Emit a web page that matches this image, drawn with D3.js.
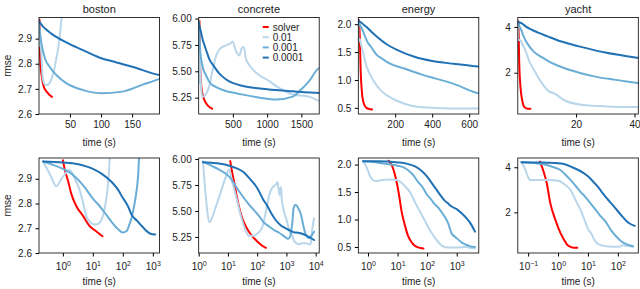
<!DOCTYPE html>
<html>
<head>
<meta charset="utf-8">
<script src="https://cdn.jsdelivr.net/npm/d3@7"></script>
<style>
  body { margin: 0; background: #fff; }
  text { font-family: "Liberation Sans", Arial, sans-serif; fill: #222; }
</style>
</head>
<body>
<div class="canvas"></div>
<script>
// datasets and series
const datasets = ['boston', 'concrete', 'energy', 'yacht'];
const seriesNames = ['solver', '0.01', '0.001', '0.0001'];
const seriesColors = ['#ff0000', '#b9d6eb', '#6aaed6', '#2171b5'];

// [time (s), rmse]
const bostonSolver = [[1,2.975],[1.2,2.93],[1.5,2.89],[1.9,2.84],[2.8,2.79],[4.7,2.75],[7.7,2.71],[12.8,2.688],[21,2.668]];
const boston01 = [[0.22,2.97],[0.4,2.91],[0.6,2.87],[0.9,2.9],[1.3,2.925],[1.7,2.935],[2.5,2.9],[3.6,2.856],[5,2.79],[6,2.75],[8,2.725],[10,2.717],[13,2.715],[17,2.722],[21,2.745],[25,2.78],[28,2.82],[31,2.86],[34,2.92],[37,2.99]];
const boston001 = [[0.22,2.97],[0.5,2.955],[1,2.94],[1.5,2.93],[3,2.9],[5,2.87],[10,2.82],[17,2.789],[30,2.75],[44,2.723],[70,2.696],[100,2.683],[134,2.689],[166,2.716],[194,2.74],[230,2.78],[270,2.83],[300,2.87],[330,2.93],[350,3.0]];
const boston0001 = [[0.22,2.97],[1,2.966],[3,2.96],[6,2.95],[10,2.94],[20,2.92],[44,2.885],[70,2.855],[97,2.825],[125,2.805],[150,2.788],[194,2.755],[300,2.73],[437,2.708],[600,2.69],[830,2.678],[1200,2.675]];

const concreteSolver = [[12,5.98],[14,5.87],[16.5,5.77],[21,5.61],[28,5.465],[41,5.35],[55,5.29],[69,5.256],[90,5.22],[117,5.19],[150,5.165],[198,5.145]];
const concrete01 = [[1.4,5.975],[1.8,5.6],[2.3,5.39],[3,5.45],[3.9,5.545],[6,5.7],[8.5,5.83],[11,5.9],[14,5.78],[19,5.64],[25,5.5],[32,5.39],[42,5.3],[53,5.26],[70,5.26],[90,5.27],[120,5.3],[152,5.35],[200,5.5],[257,5.65],[320,5.72],[380,5.74],[450,5.76],[500,5.78],[540,5.7],[595,5.65],[630,5.72],[660,5.73],[690,5.62],[750,5.55],[891,5.46],[1000,5.42],[1133,5.36],[1374,5.28],[1616,5.26],[1760,5.22],[2200,5.19],[2700,5.18],[3500,5.19],[4600,5.19],[6000,5.18],[6700,5.18],[7200,5.25],[7700,5.33],[8800,5.43]];
const concrete001 = [[1.4,5.975],[3,5.93],[5,5.897],[11,5.83],[24,5.69],[53,5.56],[117,5.45],[167,5.39],[257,5.35],[408,5.31],[560,5.29],[891,5.25],[1133,5.232],[1374,5.26],[1500,5.33],[1616,5.41],[1760,5.53],[2100,5.56],[2500,5.53],[3100,5.47],[4000,5.33],[4600,5.27],[5900,5.24],[7500,5.27],[8800,5.3]];
const concrete0001 = [[1.4,5.97],[4,5.96],[8.5,5.945],[20,5.91],[32,5.88],[60,5.8],[90,5.74],[118,5.685],[160,5.61],[215,5.556],[300,5.48],[408,5.42],[649,5.36],[891,5.337],[1374,5.31],[1760,5.295],[2500,5.29],[3500,5.28],[5000,5.26],[7700,5.23],[8800,5.22]];

const energySolver = [[5,2.07],[6.5,1.98],[8.3,1.8],[10.8,1.5],[14,1.12],[18,0.88],[22,0.72],[27,0.62],[35,0.54],[45,0.5],[60,0.48],[75,0.47]];
const energy01 = [[0.68,2.06],[0.9,1.95],[1.2,1.78],[1.8,1.7],[3,1.72],[5,1.73],[9.5,1.72],[13,1.68],[16,1.63],[27,1.49],[40,1.3],[58,1.14],[80,1.0],[126,0.8],[167,0.7],[254,0.57],[342,0.51],[500,0.49],[770,0.49],[1500,0.495],[2180,0.5],[3000,0.48],[4150,0.475]];
const energy001 = [[0.68,2.06],[2,2.04],[4.4,2.01],[10,1.98],[16,1.95],[25,1.88],[35,1.8],[50,1.68],[68,1.6],[100,1.45],[130,1.38],[167,1.3],[254,1.2],[342,1.1],[517,0.93],[654,0.76],[1000,0.66],[1500,0.58],[2180,0.535],[3000,0.51],[4150,0.5]];
const energy0001 = [[0.68,2.06],[2,2.06],[4.4,2.055],[10,2.04],[16,2.03],[30,1.99],[45,1.95],[70,1.87],[97,1.79],[150,1.65],[210,1.54],[300,1.42],[400,1.34],[517,1.29],[654,1.24],[1000,1.19],[1500,1.11],[2180,1.02],[3000,0.92],[4150,0.78]];

const yachtSolver = [[0.25,4.25],[0.33,3.8],[0.42,3.29],[0.55,2.41],[0.81,1.68],[1.2,1.09],[1.6,0.78],[2,0.57],[2.6,0.47],[3.4,0.43],[4.4,0.43]];
const yacht01 = [[0.06,4.22],[0.08,3.9],[0.1,3.55],[0.115,3.44],[0.2,3.43],[0.42,3.44],[0.8,3.42],[1.2,3.37],[1.8,3.2],[2.6,3.0],[4,2.5],[5.7,2.1],[8,1.6],[10.6,1.2],[12.5,1.1],[16,0.8],[21.7,0.6],[27,0.55],[40,0.5],[60,0.48],[90,0.48],[120,0.49],[150,0.55],[180,0.52],[250,0.5],[325,0.48]];
const yacht001 = [[0.06,4.22],[0.2,4.17],[0.42,4.1],[0.8,3.98],[1.2,3.88],[1.8,3.66],[2.6,3.44],[4,3.15],[5.7,2.9],[8,2.7],[10.6,2.5],[15,2.25],[21.7,1.98],[27,1.82],[33,1.7],[41,1.55],[60,1.2],[90,0.92],[130,0.72],[200,0.58],[325,0.5]];
const yacht0001 = [[0.06,4.22],[0.2,4.21],[0.42,4.2],[1,4.18],[1.56,4.14],[3,4.0],[4.4,3.9],[7,3.75],[10,3.6],[15,3.36],[21,3.15],[30,2.88],[41,2.65],[70,2.3],[100,2.05],[150,1.78],[220,1.55],[370,1.4]];

const curves = {
    boston: [bostonSolver, boston01, boston001, boston0001],
    concrete: [concreteSolver, concrete01, concrete001, concrete0001],
    energy: [energySolver, energy01, energy001, energy0001],
    yacht: [yachtSolver, yacht01, yacht001, yacht0001]
};

// axis limits and ticks
const yLimits = [[2.6, 2.984], [5.095, 6.01], [0.39, 2.12], [0.2, 4.41]];
const yTicks = [[2.6, 2.7, 2.8, 2.9], [5.25, 5.5, 5.75, 6.0], [0.5, 1.0, 1.5, 2.0], [2, 4]];
const yFormats = ['.1f', '.2f', '.1f', 'd'];
const linLimits = [[0.22, 194], [1.4, 1760], [0.68, 652], [0.06, 41.3]];
const linTicks = [[50, 100, 150], [500, 1000, 1500], [200, 400, 600], [20, 40]];
const logLimits = [[0.16, 1670], [1, 13200], [0.47, 5600], [0.045, 484]];
const logTicks = [[0, 1, 2, 3], [0, 1, 2, 3, 4], [0, 1, 2, 3], [-1, 0, 1, 2]];

const dims = { width: 640, height: 289 };
const colLeft = [39, 198.7, 358.3, 517.8];
const panelW = 120.5;
const rows = [{ top: 17.5, height: 96.5, log: false }, { top: 158, height: 95, log: true }];

const svg = d3.select('.canvas')
    .append('svg')
    .attr('width', dims.width)
    .attr('height', dims.height);

datasets.forEach((name, i) => {
    rows.forEach((row, r) => {
        const g = svg.append('g')
            .attr('transform', `translate(${colLeft[i]}, ${row.top})`);

        const x = row.log
            ? d3.scaleLog().domain(logLimits[i]).range([0, panelW])
            : d3.scaleLinear().domain(linLimits[i]).range([0, panelW]);
        const y = d3.scaleLinear().domain(yLimits[i]).range([row.height, 0]);

        const clipId = `clip-${i}-${r}`;
        g.append('clipPath').attr('id', clipId)
            .append('rect')
            .attr('width', panelW)
            .attr('height', row.height);

        const line = d3.line()
            .x(d => x(d[0]))
            .y(d => y(d[1]))
            .curve(d3.curveMonotoneX);

        const plot = g.append('g').attr('clip-path', `url(#${clipId})`);
        curves[name].forEach((pts, s) => {
            plot.append('path')
                .attr('d', line(pts))
                .attr('fill', 'none')
                .attr('stroke', seriesColors[s])
                .attr('stroke-width', 2)
                .attr('stroke-linejoin', 'round')
                .attr('stroke-linecap', 'round');
        });

        // y axis
        const yAxis = d3.axisLeft(y)
            .tickValues(yTicks[i])
            .tickFormat(d3.format(yFormats[i]))
            .tickSize(3.5)
            .tickPadding(3.5);
        const yg = g.append('g').call(yAxis);
        yg.select('.domain').remove();
        yg.selectAll('text').attr('font-size', 10).attr('fill', '#222');

        // x axis
        const xg = g.append('g').attr('transform', `translate(0, ${row.height})`);
        if (row.log) {
            const vals = logTicks[i].map(e => Math.pow(10, e));
            xg.call(d3.axisBottom(x).tickValues(vals).tickFormat('').tickSize(3.5));
            xg.selectAll('.tick').append('text')
                .attr('y', 17)
                .attr('text-anchor', 'middle')
                .attr('font-size', 10)
                .attr('fill', '#222')
                .each(function(d) {
                    const t = d3.select(this);
                    const e = Math.round(Math.log10(d));
                    t.append('tspan').text('10');
                    t.append('tspan')
                        .attr('dy', -4)
                        .attr('font-size', 7)
                        .text(e < 0 ? '\u2212' + Math.abs(e) : e);
                });
        } else {
            xg.call(d3.axisBottom(x).tickValues(linTicks[i]).tickFormat(d3.format('d')).tickSize(3.5).tickPadding(3.5));
            xg.selectAll('text').attr('font-size', 10).attr('fill', '#222');
        }
        xg.select('.domain').remove();

        // frame
        g.append('rect')
            .attr('width', panelW)
            .attr('height', row.height)
            .attr('fill', 'none')
            .attr('stroke', '#000')
            .attr('stroke-width', 0.8);

        // x label
        g.append('text')
            .attr('x', panelW / 2)
            .attr('y', row.height + 32)
            .attr('text-anchor', 'middle')
            .attr('font-size', 10)
            .text('time (s)');

        if (i === 0) {
            g.append('text')
                .attr('transform', `translate(${-28}, ${row.height / 2}) rotate(-90)`)
                .attr('text-anchor', 'middle')
                .attr('font-size', 10)
                .text('rmse');
        }

        if (r === 0) {
            g.append('text')
                .attr('x', panelW / 2)
                .attr('y', -5)
                .attr('text-anchor', 'middle')
                .attr('font-size', 11)
                .text(name);
        }

        // legend in the concrete top panel
        if (i === 1 && r === 0) {
            const legend = g.append('g').attr('transform', 'translate(64, 9.5)');
            seriesNames.forEach((s, k) => {
                legend.append('line')
                    .attr('x1', 0).attr('x2', 6)
                    .attr('y1', k * 10.2).attr('y2', k * 10.2)
                    .attr('stroke', seriesColors[k])
                    .attr('stroke-width', 2);
                legend.append('text')
                    .attr('x', 10)
                    .attr('y', k * 10.2 + 3.5)
                    .attr('font-size', 10)
                    .text(s);
            });
        }
    });
});
</script>
</body>
</html>
